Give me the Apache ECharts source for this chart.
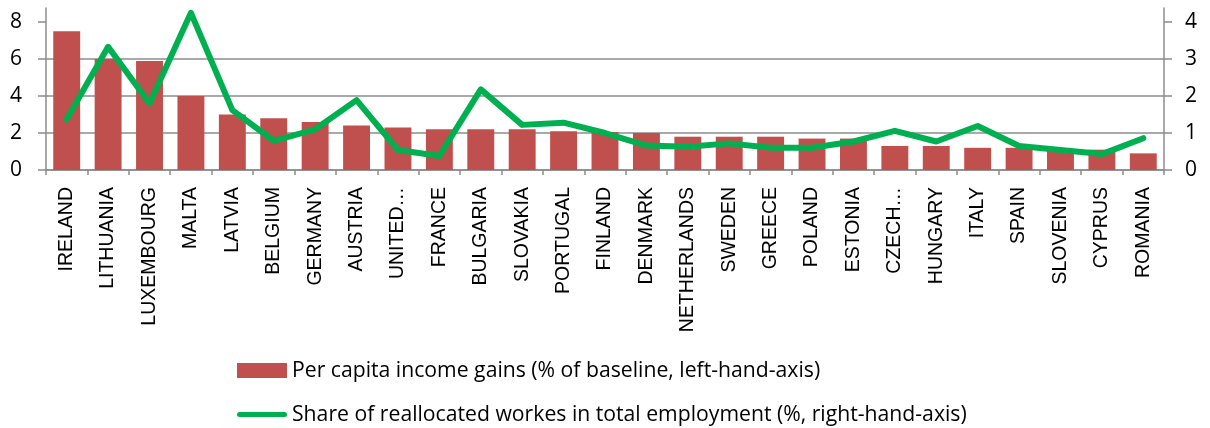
<!DOCTYPE html>
<html><head><meta charset="utf-8">
<script src="https://cdn.jsdelivr.net/npm/echarts@6/dist/echarts.min.js"></script>
<style>html,body{margin:0;padding:0;background:#fff}#c{width:1210px;height:428px}</style>
</head><body><div id="c"></div>
<script>
const categories = ["IRELAND","LITHUANIA","LUXEMBOURG","MALTA","LATVIA","BELGIUM","GERMANY","AUSTRIA","UNITED…","FRANCE","BULGARIA","SLOVAKIA","PORTUGAL","FINLAND","DENMARK","NETHERLANDS","SWEDEN","GREECE","POLAND","ESTONIA","CZECH…","HUNGARY","ITALY","SPAIN","SLOVENIA","CYPRUS","ROMANIA"];
const incomeGains = [7.5,6.0,5.9,4.0,3.0,2.8,2.6,2.4,2.3,2.2,2.2,2.2,2.1,2.05,2.0,1.8,1.8,1.8,1.7,1.7,1.3,1.3,1.2,1.2,1.1,1.1,0.9];
const reallocShare = [1.37,3.33,1.80,4.25,1.62,0.79,1.10,1.89,0.54,0.38,2.18,1.22,1.28,1.0,0.66,0.63,0.72,0.60,0.60,0.77,1.06,0.77,1.19,0.65,0.54,0.43,0.86];
const leftTicks = [0,2,4,6,8];
const rightTicks = [0,1,2,3,4];
const barName = "Per capita income gains (% of baseline, left-hand-axis)";
const lineName = "Share of reallocated workes in total employment (%, right-hand-axis)";

const numFont = '"Open Sans",sans-serif';
const gridColor = '#8c8c8c';
const lineIcon = 'path://M2.5,0 L47.5,0 A2.5,2.5 0 0 1 47.5,5 L2.5,5 A2.5,2.5 0 0 1 2.5,0 Z';
const chart = echarts.init(document.getElementById('c'));
chart.setOption({
  animation: false,
  grid: {left: 46, right: 46, top: 8, bottom: 258, containLabel: false},
  legend: {
    orient: 'vertical', left: 237, top: 360, padding: 0, itemWidth: 50, itemHeight: 15, itemGap: 23,
    textStyle: {fontFamily: numFont, fontSize: 21.2, color: '#000', lineHeight: 20},
    data: [
      {name: barName, icon: 'rect'},
      {name: lineName, icon: lineIcon, itemStyle: {color: '#00B050'}}
    ]
  },
  xAxis: {
    type: 'category', data: categories,
    axisLine: {lineStyle: {color: gridColor, width: 1.5}},
    axisTick: {show: true, length: 5, lineStyle: {color: gridColor, width: 1.5}},
    axisLabel: {rotate: 90, interval: 0, margin: 17, fontFamily: '"Liberation Sans",Arial,sans-serif', fontSize: 19.5, color: '#000'}
  },
  yAxis: [
    {type: 'value', min: 0, max: 8.76, interval: 2,
     axisLine: {show: true, lineStyle: {color: gridColor, width: 1.5}},
     axisTick: {show: true, length: 8, inside: false, customValues: leftTicks, lineStyle: {color: gridColor, width: 1.5}},
     axisLabel: {customValues: leftTicks, margin: 24, fontFamily: numFont, fontSize: 21, color: '#000'},
     splitLine: {show: true, showMaxLine: false, lineStyle: {color: gridColor, width: 1.5}}},
    {type: 'value', min: 0, max: 4.38, interval: 1,
     axisLine: {show: true, lineStyle: {color: gridColor, width: 1.5}},
     axisTick: {show: true, length: 8, inside: false, customValues: rightTicks, lineStyle: {color: gridColor, width: 1.5}},
     axisLabel: {customValues: rightTicks, margin: 21, fontFamily: numFont, fontSize: 21, color: '#000'},
     splitLine: {show: false}}
  ],
  series: [
    {name: barName, type: 'bar', data: incomeGains, yAxisIndex: 0, barCategoryGap: '35%',
     itemStyle: {color: '#C0504D'}},
    {name: lineName, type: 'line', data: reallocShare, yAxisIndex: 1,
     symbol: 'none', clip: false, lineStyle: {color: '#00B050', width: 6, cap: 'round', join: 'round'},
     itemStyle: {color: '#00B050'}}
  ]
});
</script></body></html>
